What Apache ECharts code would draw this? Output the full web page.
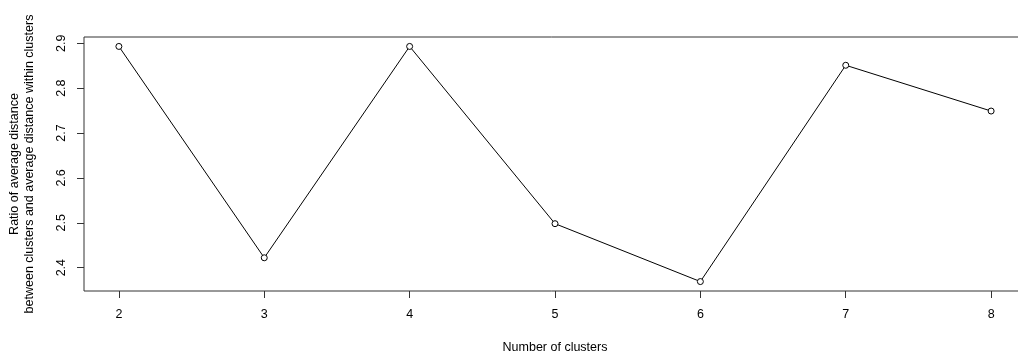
<!DOCTYPE html>
<html>
<head>
<meta charset="utf-8">
<script src="https://cdn.jsdelivr.net/npm/echarts@6/dist/echarts.min.js"></script>
<style>
html,body{margin:0;padding:0;background:#fff;}
#chart{width:1018px;height:358px;}
</style>
</head>
<body>
<div id="chart"></div>
<script>
var clusters = [2, 3, 4, 5, 6, 7, 8];
var ratios = [2.893, 2.422, 2.893, 2.498, 2.369, 2.851, 2.749];
var xTicks = [2, 3, 4, 5, 6, 7, 8];
var yTicks = [2.4, 2.5, 2.6, 2.7, 2.8, 2.9];
var xTitle = 'Number of clusters';
var yTitle1 = 'Ratio of average distance';
var yTitle2 = 'between clusters and average distance within clusters';

var font = 'Liberation Sans, Arial, sans-serif';
var fs = 12.5;
var chart = echarts.init(document.getElementById('chart'), null, {renderer: 'canvas'});
var points = clusters.map(function (c, i) { return [c, ratios[i]]; });

chart.setOption({
  animation: false,
  backgroundColor: '#fff',
  grid: {
    left: 84, top: 37, width: 942, height: 254,
    outerBoundsMode: 'none',
    show: true, borderColor: '#333', borderWidth: 1, backgroundColor: 'transparent',
    containLabel: false
  },
  xAxis: {
    type: 'value', min: 1.76, max: 8.24,
    axisLine: {show: false},
    splitLine: {show: false},
    axisTick: {show: true, customValues: xTicks, length: 7, inside: false, lineStyle: {color: '#333', width: 1}},
    axisLabel: {customValues: xTicks, margin: 17, color: '#000', fontSize: fs, fontFamily: font,
      formatter: function (v) { return String(v); }}
  },
  yAxis: {
    type: 'value', min: 2.348, max: 2.914,
    axisLine: {show: false},
    splitLine: {show: false},
    axisTick: {show: true, customValues: yTicks, length: 7, inside: false, lineStyle: {color: '#333', width: 1}},
    axisLabel: {customValues: yTicks, rotate: 90, margin: 16, color: '#000', fontSize: fs, fontFamily: font,
      formatter: function (v) { return v.toFixed(1); }}
  },
  graphic: [
    {type: 'text', x: 555, y: 348, style: {text: xTitle, fill: '#000', font: fs + 'px ' + font, textAlign: 'center', textVerticalAlign: 'middle'}},
    {type: 'text', x: 15, y: 164, rotation: Math.PI / 2, style: {text: yTitle1, fill: '#000', font: fs + 'px ' + font, textAlign: 'center', textVerticalAlign: 'middle'}},
    {type: 'text', x: 30, y: 164, rotation: Math.PI / 2, style: {text: yTitle2, fill: '#000', font: fs + 'px ' + font, textAlign: 'center', textVerticalAlign: 'middle'}}
  ],
  series: [{
    type: 'line',
    data: points,
    symbol: 'circle',
    symbolSize: 6,
    showAllSymbol: true,
    itemStyle: {color: '#fff', borderColor: '#000', borderWidth: 1},
    lineStyle: {color: '#000', width: 1},
    z: 3
  }]
});
</script>
</body>
</html>
